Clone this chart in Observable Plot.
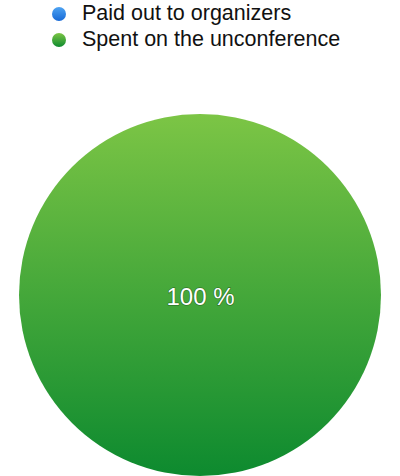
<!DOCTYPE html>
<html><head><meta charset="utf-8">
<script src="https://cdn.jsdelivr.net/npm/d3@7"></script>
<script src="https://cdn.jsdelivr.net/npm/@observablehq/plot@0.6"></script>
<style>
body{margin:0;background:#fff;font-family:"Liberation Sans",Arial,sans-serif;}
#legend{height:60px;position:relative}
.item{position:absolute;left:52px;font-size:21.5px;color:#111;display:flex;align-items:center}
.dot{width:14px;height:14px;border-radius:50%;margin-right:16px}
</style></head><body>
<div id="legend"></div>
<div id="chart"></div>
<script>
const categories = ["Paid out to organizers", "Spent on the unconference"];
const values = [0, 100];
const colorsTop = ["#4da3f2", "#7cc545"];
const colorsBottom = ["#1769d6", "#0d8a2f"];

const leg = document.getElementById("legend");
categories.forEach((c,i)=>{
  const d = document.createElement("div");
  d.className="item"; d.style.top=(i===0?1:27)+"px";
  d.innerHTML=`<span class="dot" style="background:linear-gradient(${colorsTop[i]},${colorsBottom[i]})"></span>${c}`;
  leg.appendChild(d);
});

const total = d3.sum(values);
const arcs = d3.pie().sort(null).value(d=>d.value)(categories.map((c,i)=>({c,i,value:values[i]})));
const slices = arcs.filter(a=>a.data.value>0);

function pieMark(data){
  return (index, scales, values, dims, context)=>{
    const cx = scales.x(0), cy = scales.y(0), r = Math.abs(scales.x(1)-scales.x(0));
    const svg = d3.create("svg:g");
    const defs = svg.append("defs");
    data.forEach(a=>{
      const g = defs.append("linearGradient").attr("id","g"+a.data.i).attr("x1",0).attr("y1",0).attr("x2",0).attr("y2",1);
      g.append("stop").attr("offset","0").attr("stop-color",colorsTop[a.data.i]);
      g.append("stop").attr("offset","1").attr("stop-color",colorsBottom[a.data.i]);
    });
    const arc = d3.arc().innerRadius(0).outerRadius(r);
    svg.selectAll("path").data(data).join("path")
      .attr("transform",`translate(${cx},${cy})`)
      .attr("d",arc).attr("fill",a=>`url(#g${a.data.i})`);
    return svg.node();
  };
}

const labels = slices.map(a=>{
  const full = a.endAngle-a.startAngle >= 2*Math.PI-1e-6;
  const c = full ? [0,0] : d3.arc().innerRadius(0).outerRadius(1).centroid(a);
  return {x:c[0], y:-c[1], t: Math.round(a.data.value/total*100)+" %"};
});

const plot = Plot.plot({
  width:400, height:416, margin:0,
  x:{domain:[-1,1], range:[19,381], axis:null},
  y:{domain:[-1,1], range:[416,54], axis:null},
  marks:[
    pieMark(slices),
    Plot.text(labels,{x:"x",y:"y",dy:2,text:"t",fill:"#fff",fontSize:24,
      fontFamily:"Liberation Sans, Arial, sans-serif",
      stroke:"rgba(0,0,0,0.3)",strokeWidth:1.5,paintOrder:"stroke"})
  ]
});
document.getElementById("chart").appendChild(plot);
</script></body></html>
